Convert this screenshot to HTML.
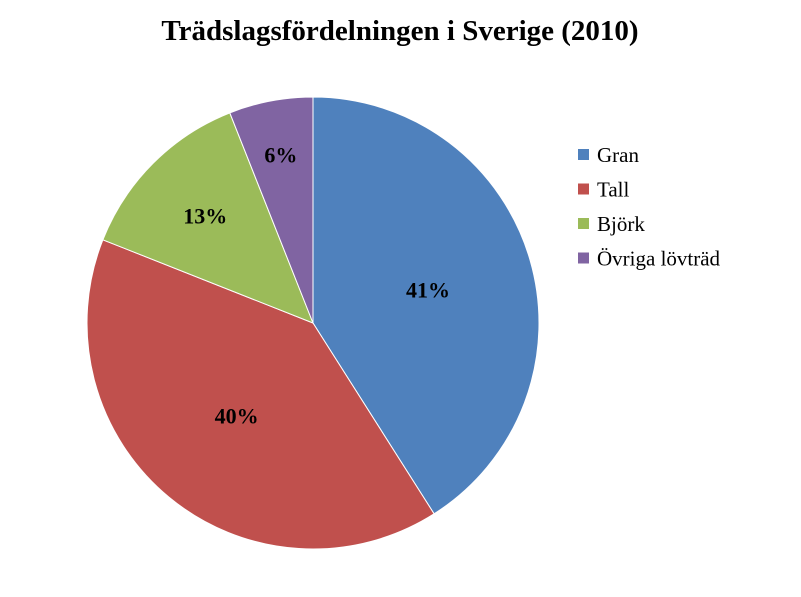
<!DOCTYPE html>
<html><head><meta charset="utf-8"><style>
body{margin:0;background:#fff;}
svg{display:block;font-family:"Liberation Serif",serif;}
</style></head><body>
<svg id="chart" width="801" height="597">
<text x="400" y="40" text-anchor="middle" font-size="29" font-weight="bold" fill="#000">Trädslagsfördelningen i Sverige (2010)</text>
<g id="slices"></g>
<g id="labels"></g>
<g id="legend"></g>
</svg>
<script>
const categories = ["Gran", "Tall", "Björk", "Övriga lövträd"];
const values = [41, 40, 13, 6];
const valueLabels = ["41%", "40%", "13%", "6%"];
const colors = ["#4f81bd", "#c0504d", "#9bbb59", "#8064a2"];
const NS = "http://www.w3.org/2000/svg";
const cx = 313, cy = 323, R = 226;
const total = values.reduce((a, b) => a + b, 0);
const pt = (frac, r) => [cx + r * Math.sin(frac * 2 * Math.PI), cy - r * Math.cos(frac * 2 * Math.PI)];
const gS = document.getElementById('slices'), gL = document.getElementById('labels'), gG = document.getElementById('legend');
let acc = 0;
values.forEach((v, i) => {
  const f0 = acc / total, f1 = (acc + v) / total; acc += v;
  const [x0, y0] = pt(f0, R), [x1, y1] = pt(f1, R);
  const large = (f1 - f0) > 0.5 ? 1 : 0;
  const p = document.createElementNS(NS, 'path');
  p.setAttribute('d', `M${cx},${cy} L${x0},${y0} A${R},${R} 0 ${large} 1 ${x1},${y1} Z`);
  p.setAttribute('fill', colors[i]);
  p.setAttribute('stroke', '#fff');
  p.setAttribute('stroke-width', '1');
  
  
  gS.appendChild(p);
  const pct = v / total;
  const lr = R * (0.53 + 0.3 * (1 - Math.min(1, pct / 0.25)));
  const [lx, ly] = pt((f0 + f1) / 2, lr);
  const t = document.createElementNS(NS, 'text');
  t.setAttribute('x', lx); t.setAttribute('y', ly + 8);
  t.setAttribute('text-anchor', 'middle');
  t.setAttribute('font-size', '22'); t.setAttribute('font-weight', 'bold');
  t.textContent = valueLabels[i];
  
  
  gL.appendChild(t);
  const ly2 = 155 + i * 34.5;
  const r = document.createElementNS(NS, 'rect');
  r.setAttribute('x', 578); r.setAttribute('y', ly2 - 6); r.setAttribute('width', 11); r.setAttribute('height', 11);
  r.setAttribute('fill', colors[i]);
  
  
  gG.appendChild(r);
  const lt = document.createElementNS(NS, 'text');
  lt.setAttribute('x', 597); lt.setAttribute('y', ly2 + 7);
  lt.setAttribute('font-size', '21');
  lt.textContent = categories[i];
  
  
  gG.appendChild(lt);
});
</script>
</body></html>
